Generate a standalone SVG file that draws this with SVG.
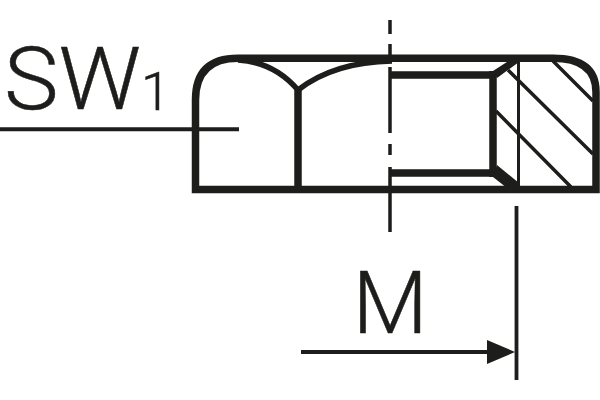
<svg xmlns="http://www.w3.org/2000/svg" width="600" height="400" viewBox="0 0 600 400">
<style>
.l{fill:none;stroke:#1d1d1b;stroke-linecap:butt;stroke-linejoin:miter}
.f{fill:#1d1d1b}
.t{fill:#1d1d1b;stroke:#1d1d1b;stroke-width:0.500;font-family:"Roboto","Liberation Sans",sans-serif;font-weight:300}
</style>
<rect width="600" height="400" fill="#fff"/>
<g id="nut">
<path class="l" stroke-width="7.500" d="M195.500 189.500V100Q195.500 58.300 238 58.300H553Q596 58.300 596 92V189.500Z"/>
<path class="l" stroke-width="7.500" d="M298 189V90"/>
<path class="l" stroke-width="5.500" d="M238 60Q274 62 298 90Q334 62 392 61"/>
<path class="l" stroke-width="7.500" d="M390 75H493M390 173H493M493 71V177"/>
<path class="l" stroke-width="3" d="M518.500 60V188"/>
<path class="f" d="M493 71L510 60L519 62L497 78Z"/>
<path class="f" d="M497 165L519 183V188H507L493 177Z"/>
<path class="l" stroke-width="3.500" d="M553 61L593 101M508 70L593 154M496 111L571 187"/>
</g>
<g id="connectors">
<path class="l" stroke-width="3.500" d="M390 20V34M390 44V62M390 67V133M390 144V155M390 167V232"/>
<path class="l" stroke-width="4" d="M0 129.300H239"/>
<path class="l" stroke-width="3.800" d="M516.500 206V380"/>
<path class="l" stroke-width="4" d="M301 352H490"/>
<path class="f" d="M487 340L515 352L487 364Z"/>
</g>
<g id="labels">
<text class="t" x="4" y="109" font-size="87" textLength="137" lengthAdjust="spacingAndGlyphs">SW</text>
<text class="t" x="141" y="110" font-size="53">1</text>
<text class="t" x="352.500" y="333" font-size="87">M</text>
</g>
</svg>
